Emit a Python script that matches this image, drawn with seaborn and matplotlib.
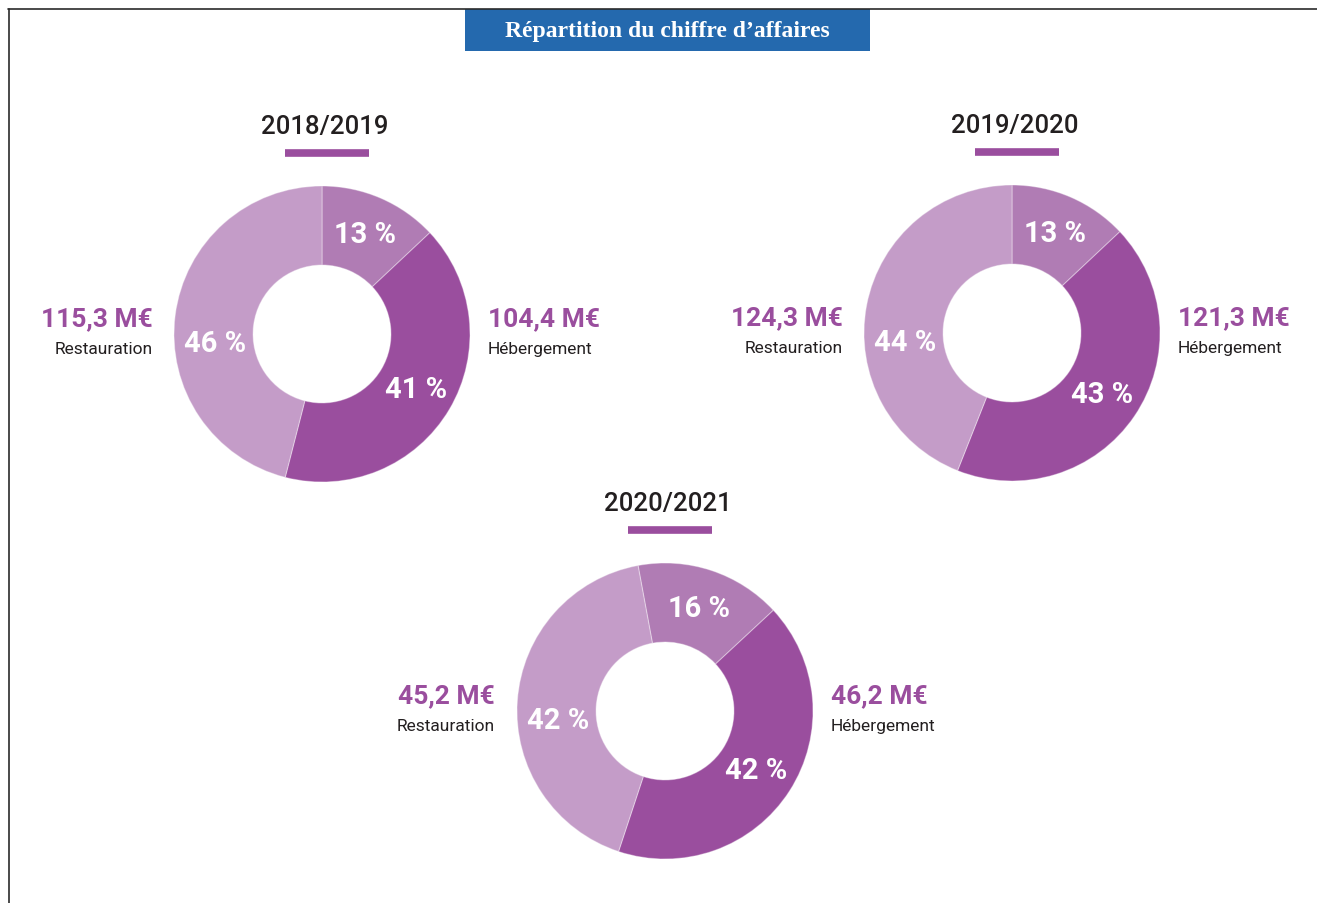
import matplotlib.pyplot as plt
from matplotlib.lines import Line2D
from matplotlib.patches import Rectangle
import seaborn as sns

# Répartition du chiffre d'affaires (parts en %, montants en M€)
years = ["2018/2019", "2019/2020", "2020/2021"]
segments = ["Autres", "Hébergement", "Restauration"]
shares_1819 = [13, 41, 46]
shares_1920 = [13, 43, 44]
shares_2021 = [16, 42, 42]
hebergement_me = [104.4, 121.3, 46.2]
restauration_me = [115.3, 124.3, 45.2]
start_angles = [90, 90, 100.5]

sns.set_theme(style="white")
plt.rcParams["font.family"] = ["Roboto", "DejaVu Sans"]

palette = sns.color_palette(["#B07CB4", "#9A4E9E", "#C49CC8"])
purple = "#9A4E9E"
ink = "#231F20"

W, H = 1317, 904
R = 148
# donut centres in pixels (from top-left)
centres = [(322, 335), (1012, 334), (665, 712)]
left_x = [-1.142, -1.142, -1.15]

fig = plt.figure(figsize=(W / 100, H / 100), dpi=100)
fig.patch.set_facecolor("white")

# frame lines
fig.add_artist(Line2D([8 / W, 1], [1 - 10 / H, 1 - 10 / H], color="#2b2b2b", lw=1.2))
fig.add_artist(Line2D([9 / W, 9 / W], [0, 1 - 10 / H], color="#2b2b2b", lw=1.2))

# title banner
fig.add_artist(Rectangle((465 / W, 1 - 52 / H), 405 / W, 42 / H,
                         transform=fig.transFigure, color="#2469AE", lw=0))
fig.text(667.5 / W, 1 - 31 / H, "Répartition du chiffre d’affaires",
         ha="center", va="center", color="white", fontsize=17,
         family=["Liberation Serif", "DejaVu Serif"], fontweight="bold")


def fmt(v):
    return f"{v:.1f}".replace(".", ",") + " M€"


all_shares = [shares_1819, shares_1920, shares_2021]
for i, (cx, cy) in enumerate(centres):
    ax = fig.add_axes([(cx - R) / W, (H - cy - R) / H, 2 * R / W, 2 * R / H])
    wedges, texts, autotexts = ax.pie(
        all_shares[i], colors=palette, startangle=start_angles[i],
        counterclock=False, radius=1,
        wedgeprops=dict(width=0.534, edgecolor=(1, 1, 1, 0.35), linewidth=0.8),
        autopct=lambda p: f"{p:.0f} %", pctdistance=0.735,
        textprops=dict(color="white", fontsize=21, fontweight="bold"))
    # the Restauration label sits just below the horizontal, as in the original
    autotexts[2].set_position((-0.72, -0.06))
    ax.set_xlim(-1, 1)
    ax.set_ylim(-1, 1)
    ax.set_aspect("equal")
    ax.axis("off")

    # year title + underline
    ax.text(0.02, 1.405, years[i], ha="center", va="center", fontsize=18.5,
            fontweight="medium", color=ink, clip_on=False)
    ax.plot([-0.25, 0.32], [1.223, 1.223], color=purple, lw=5.5,
            solid_capstyle="butt", clip_on=False)

    # Restauration (left)
    ax.text(left_x[i], 0.11, fmt(restauration_me[i]), ha="right", va="center",
            fontsize=19, fontweight="bold", color=purple, clip_on=False)
    ax.text(left_x[i], -0.1, segments[2], ha="right", va="center",
            fontsize=12.5, color=ink, clip_on=False)
    # Hébergement (right)
    ax.text(1.12, 0.11, fmt(hebergement_me[i]), ha="left", va="center",
            fontsize=19, fontweight="bold", color=purple, clip_on=False)
    ax.text(1.12, -0.1, segments[1], ha="left", va="center",
            fontsize=12.5, color=ink, clip_on=False)

fig.savefig("out.png", dpi=100, facecolor="white")
